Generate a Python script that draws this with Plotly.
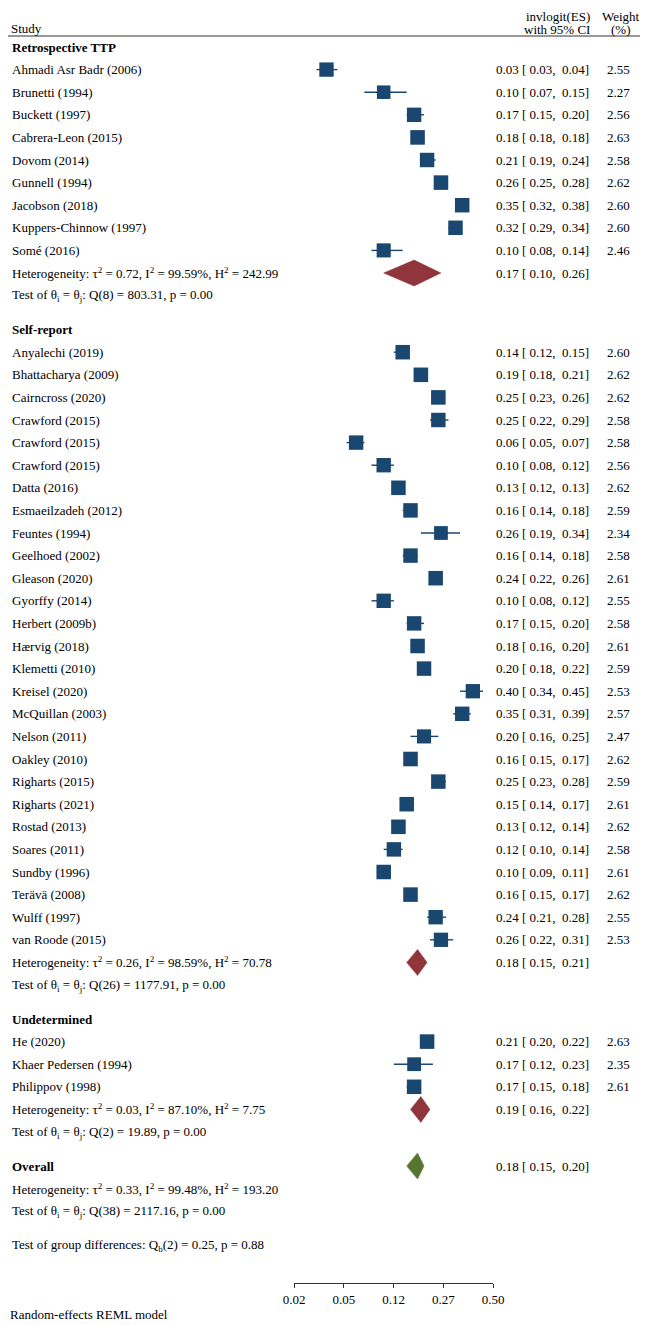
import math
import plotly.graph_objects as go

# ---- data (invlogit(ES), 95% CI, weight %) ----
retro_names = ["Ahmadi Asr Badr (2006)", "Brunetti (1994)", "Buckett (1997)", "Cabrera-Leon (2015)",
               "Dovom (2014)", "Gunnell (1994)", "Jacobson (2018)", "Kuppers-Chinnow (1997)", "Somé (2016)"]
retro_es = [0.034, 0.10, 0.17, 0.18, 0.21, 0.26, 0.35, 0.32, 0.10]
retro_lo = [0.028, 0.07, 0.15, 0.18, 0.19, 0.25, 0.32, 0.29, 0.08]
retro_hi = [0.042, 0.15, 0.20, 0.18, 0.24, 0.28, 0.38, 0.34, 0.14]
retro_wt = [2.55, 2.27, 2.56, 2.63, 2.58, 2.62, 2.60, 2.60, 2.46]

self_names = ["Anyalechi (2019)", "Bhattacharya (2009)", "Cairncross (2020)", "Crawford (2015)",
              "Crawford (2015)", "Crawford (2015)", "Datta (2016)", "Esmaeilzadeh (2012)", "Feuntes (1994)",
              "Geelhoed (2002)", "Gleason (2020)", "Gyorffy (2014)", "Herbert (2009b)", "Hærvig (2018)",
              "Klemetti (2010)", "Kreisel (2020)", "McQuillan (2003)", "Nelson (2011)", "Oakley (2010)",
              "Righarts (2015)", "Righarts (2021)", "Rostad (2013)", "Soares (2011)", "Sundby (1996)",
              "Terävä (2008)", "Wulff (1997)", "van Roode (2015)"]
self_es = [0.14, 0.19, 0.25, 0.25, 0.06, 0.10, 0.13, 0.16, 0.26, 0.16, 0.24, 0.10, 0.17, 0.18,
           0.20, 0.40, 0.35, 0.20, 0.16, 0.25, 0.15, 0.13, 0.12, 0.10, 0.16, 0.24, 0.26]
self_lo = [0.12, 0.18, 0.23, 0.22, 0.05, 0.08, 0.12, 0.14, 0.19, 0.14, 0.22, 0.08, 0.15, 0.16,
           0.18, 0.34, 0.31, 0.16, 0.15, 0.23, 0.14, 0.12, 0.10, 0.09, 0.15, 0.21, 0.22]
self_hi = [0.15, 0.21, 0.26, 0.29, 0.07, 0.12, 0.13, 0.18, 0.34, 0.18, 0.26, 0.12, 0.20, 0.20,
           0.22, 0.45, 0.39, 0.25, 0.17, 0.28, 0.17, 0.14, 0.14, 0.11, 0.17, 0.28, 0.31]
self_wt = [2.60, 2.62, 2.62, 2.58, 2.58, 2.56, 2.62, 2.59, 2.34, 2.58, 2.61, 2.55, 2.58, 2.61,
           2.59, 2.53, 2.57, 2.47, 2.62, 2.59, 2.61, 2.62, 2.58, 2.61, 2.62, 2.55, 2.53]

und_names = ["He (2020)", "Khaer Pedersen (1994)", "Philippov (1998)"]
und_es = [0.21, 0.17, 0.17]
und_lo = [0.20, 0.12, 0.15]
und_hi = [0.22, 0.23, 0.18]
und_wt = [2.63, 2.35, 2.61]

# pooled estimates per group
pooled_es = [0.17, 0.18, 0.19]
pooled_lo = [0.10, 0.15, 0.16]
pooled_hi = [0.26, 0.21, 0.22]
het_text = ["τ<sup>2</sup> = 0.72, I<sup>2</sup> = 99.59%, H<sup>2</sup> = 242.99",
            "τ<sup>2</sup> = 0.26, I<sup>2</sup> = 98.59%, H<sup>2</sup> = 70.78",
            "τ<sup>2</sup> = 0.03, I<sup>2</sup> = 87.10%, H<sup>2</sup> = 7.75"]
q_text = ["Q(8) = 803.31, p = 0.00", "Q(26) = 1177.91, p = 0.00", "Q(2) = 19.89, p = 0.00"]
group_titles = ["Retrospective TTP", "Self-report", "Undetermined"]

overall_es, overall_lo, overall_hi = 0.18, 0.15, 0.20
overall_het = "τ<sup>2</sup> = 0.33, I<sup>2</sup> = 99.48%, H<sup>2</sup> = 193.20"
overall_q = "Q(38) = 2117.16, p = 0.00"
group_diff = "Q<sub>b</sub>(2) = 0.25, p = 0.88"

tick_logits = [-4, -3, -2, -1, 0]

groups = [
    (retro_names, retro_es, retro_lo, retro_hi, retro_wt),
    (self_names, self_es, self_lo, self_hi, self_wt),
    (und_names, und_es, und_lo, und_hi, und_wt),
]

# ---- layout (screen pixels; page body adds an 8px margin) ----
OFF = 8
W, H = 648 - OFF, 1325 - OFF
STEP = 22.6
GAP = 34
X_LEFT = 10
X_ES = 591
X_WT = 632
NAVY = "#1a476f"
MAROON = "#90353b"
GREEN = "#56752f"
FONT = "Liberation Serif"
NB = "\u00a0"


def logit(p):
    return math.log(p / (1 - p))


def fmt_ci(es, lo, hi):
    return f"{es:.2f} [{NB}{lo:.2f},{NB}{NB}{hi:.2f}]"


def px(x):
    return max(x - OFF, 0) / W


notes = []


def note(x, y, text, anchor="left", pad=1):
    notes.append(dict(x=px(x), y=y, xref="paper", yref="y", text=text, showarrow=False,
                      xanchor=anchor, yanchor="middle", borderpad=pad,
                      font=dict(family=FONT, size=13, color="black")))


ci_x, ci_y = [], []
sq_x, sq_y, sq_s = [], [], []
diamonds = []

y = 47.0
for gi, (names, es, lo, hi, wt) in enumerate(groups):
    note(X_LEFT, y, f"<b>{group_titles[gi]}</b>")
    for i in range(len(names)):
        y += STEP
        note(X_LEFT, y, names[i])
        note(X_ES, y, fmt_ci(es[i], lo[i], hi[i]), "right")
        note(X_WT, y, f"{wt[i]:.2f}", "right")
        ci_x += [logit(lo[i]), logit(hi[i]), None]
        ci_y += [y, y, None]
        sq_x.append(logit(es[i]))
        sq_y.append(y)
        sq_s.append(14.5 * math.sqrt(wt[i] / 2.6))
    y += STEP
    note(X_LEFT, y, "Heterogeneity: " + het_text[gi])
    note(X_ES, y, fmt_ci(pooled_es[gi], pooled_lo[gi], pooled_hi[gi]), "right")
    diamonds.append((pooled_es[gi], pooled_lo[gi], pooled_hi[gi], y, MAROON))
    y += STEP
    note(X_LEFT, y, "Test of θ<sub>i</sub> = θ<sub>j</sub>: " + q_text[gi])
    y += GAP

note(X_LEFT, y, "<b>Overall</b>")
note(X_ES, y, fmt_ci(overall_es, overall_lo, overall_hi), "right")
diamonds.append((overall_es, overall_lo, overall_hi, y, GREEN))
y += STEP
note(X_LEFT, y, "Heterogeneity: " + overall_het)
y += STEP
note(X_LEFT, y, "Test of θ<sub>i</sub> = θ<sub>j</sub>: " + overall_q)
y += GAP
note(X_LEFT, y, "Test of group differences: " + group_diff)

# header
note(X_LEFT, 28, "Study", pad=0)
note(X_ES, 16, "invlogit(ES)", "right", pad=0)
note(X_ES, 29, "with 95% CI", "right", pad=0)
note(621, 16, "Weight", "center", pad=0)
note(621, 29, "(%)", "center", pad=0)
note(3, 1314, "Random-effects REML model")

fig = go.Figure()
fig.add_trace(go.Scatter(x=ci_x, y=ci_y, mode="lines", line=dict(color=NAVY, width=1.4),
                         hoverinfo="skip", cliponaxis=False))
fig.add_trace(go.Scatter(x=sq_x, y=sq_y, mode="markers", cliponaxis=False,
                         marker=dict(symbol="square", size=sq_s, color=NAVY, opacity=1,
                                     line=dict(width=0))))
for es, lo, hi, yy, col in diamonds:
    fig.add_trace(go.Scatter(x=[logit(lo), logit(es), logit(hi), logit(es), logit(lo)],
                             y=[yy, yy - 13, yy, yy + 13, yy], mode="lines", fill="toself",
                             fillcolor=col, line=dict(color=col, width=0.5), cliponaxis=False))

fig.update_layout(
    width=W, height=H, margin=dict(l=0, r=0, t=0, b=0, pad=0), autosize=False,
    plot_bgcolor="white", paper_bgcolor="white", showlegend=False,
    annotations=notes,
    shapes=[dict(type="line", xref="paper", yref="y", x0=0, x1=1, y0=36, y1=36,
                 line=dict(color="#333333", width=1))],
    xaxis=dict(domain=[px(294), px(493)], range=[-4, 0], anchor="free",
               position=(1325 - 1283) / H, automargin=False,
               tickvals=tick_logits, ticktext=[f"{1 / (1 + math.exp(-v)):.2f}" for v in tick_logits],
               showline=True, linecolor="#333333", linewidth=1, ticks="outside", ticklen=4,
               tickcolor="#333333", showgrid=False, zeroline=False,
               tickfont=dict(family=FONT, size=13, color="black")),
    yaxis=dict(domain=[0, 1], range=[1325, OFF], visible=False, automargin=False),
)

fig.write_html("out.html")
